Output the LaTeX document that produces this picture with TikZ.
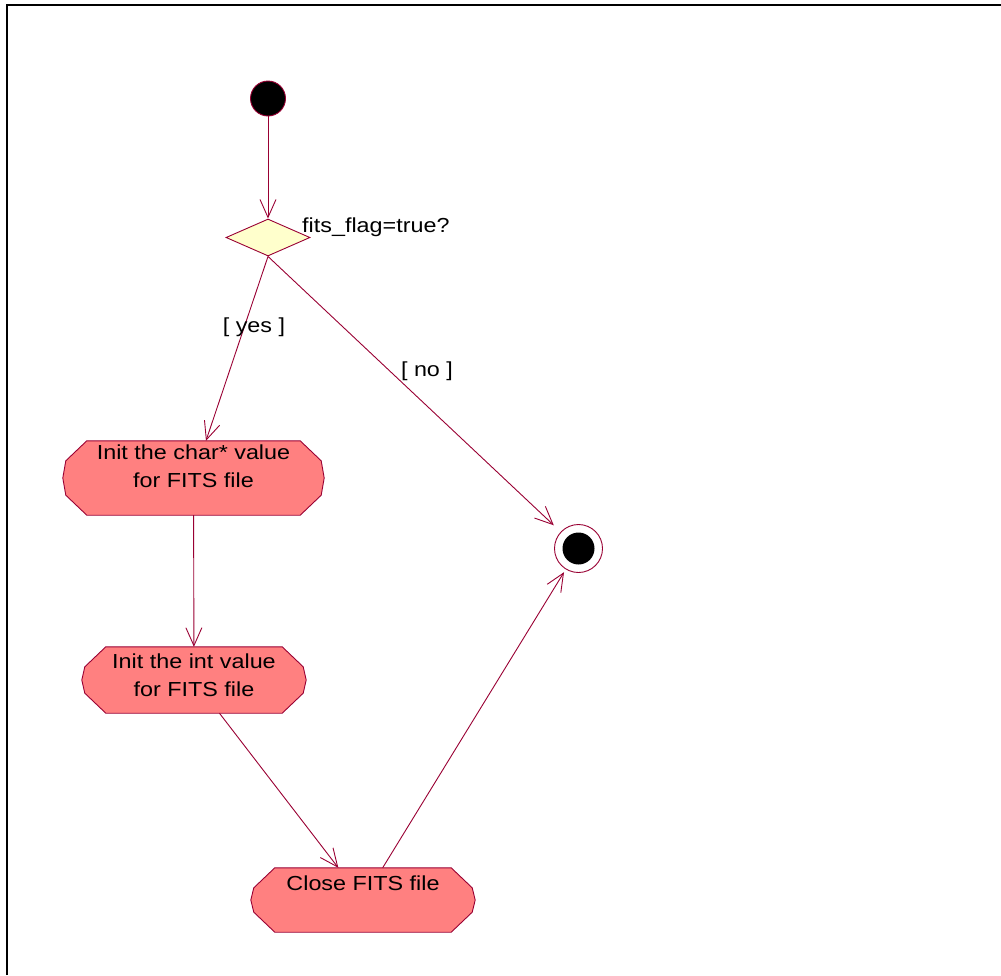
\documentclass[tikz,border=0pt]{standalone}
\usepackage{fontspec}
\setmainfont{Liberation Sans}[FakeStretch=1.15]
\usetikzlibrary{arrows.meta,shapes.geometric,calc}
\definecolor{rosered}{RGB}{153,0,51}
\definecolor{actfill}{RGB}{255,128,128}
\definecolor{decfill}{RGB}{255,255,204}
\begin{document}
\begin{tikzpicture}[x=1pt,y=-1pt,
  flow/.style={draw=rosered, line width=0.9pt, -{Straight Barb[length=18pt,width=16pt]}},
  actbox/.style={rectangle, draw=none, inner sep=0pt},
  actshape/.style={fill=actfill, draw=rosered, line width=0.9pt},
  startdot/.style={circle, fill=black, draw=rosered, line width=0.9pt, minimum size=35pt, inner sep=0pt},
  decision/.style={diamond, fill=decfill, draw=rosered, line width=0.9pt, minimum width=84pt, minimum height=37pt, inner sep=0pt},
  endbox/.style={rectangle, draw=none, minimum width=49pt, minimum height=47pt, inner sep=0pt},
  txt/.style={inner sep=0pt, align=center, font=\fontsize{20.3}{27.5}\selectfont},
]
\useasboundingbox (0,0) rectangle (1001,975);
\draw[line width=2pt] (7,975) -- (7,5) -- (1001,5);

\node[actbox, minimum width=261pt, minimum height=74pt] (a1) at (193.5,478) {};
\node[actbox, minimum width=224pt, minimum height=66pt] (a2) at (194,680) {};
\node[actbox, minimum width=224pt, minimum height=64pt] (a3) at (363,900) {};
\node[startdot] (s) at (268,98.5) {};
\node[decision] (d) at (268,237.5) {};
\node[endbox] (e) at (578.5,548.5) {};

\foreach \n in {a1,a2,a3}{
  \filldraw[actshape] ($(\n.north west)+(24,0)$) -- ($(\n.north east)+(-24,0)$)
    -- ($(\n.north east)+(-3,20)$) -- (\n.east) -- ($(\n.south east)+(-3,-20)$)
    -- ($(\n.south east)+(-24,0)$) -- ($(\n.south west)+(24,0)$)
    -- ($(\n.south west)+(3,-20)$) -- (\n.west) -- ($(\n.north west)+(3,20)$) -- cycle;
}
\draw[rosered, line width=0.9pt, fill=white] (e.center) circle (24);
\fill[black] (e.center) circle (16);

\node[txt, anchor=north] (t1) at (193.5,445) {Init the char* value\\for FITS file};
\node[txt, anchor=north] (t2) at (194,654) {Init the int value\\for FITS file};
\node[txt, anchor=base] (t3) at (363,890) {Close FITS file};
\node[txt, anchor=base west] (q) at (302,232) {fits\_flag=true?};

\draw[flow] (s) -- (d);
\draw[flow] (d.south) -- (a1);
\draw[flow] (d.south) -- (e);
\draw[flow] (a1) -- (a2);
\draw[flow] (a2) -- (a3);
\draw[flow] (a3) -- (e);

\node[txt, anchor=base] (ly) at (254,332) {[ yes ]};
\node[txt, anchor=base] (ln) at (427,376) {[ no ]};
\end{tikzpicture}
\end{document}
